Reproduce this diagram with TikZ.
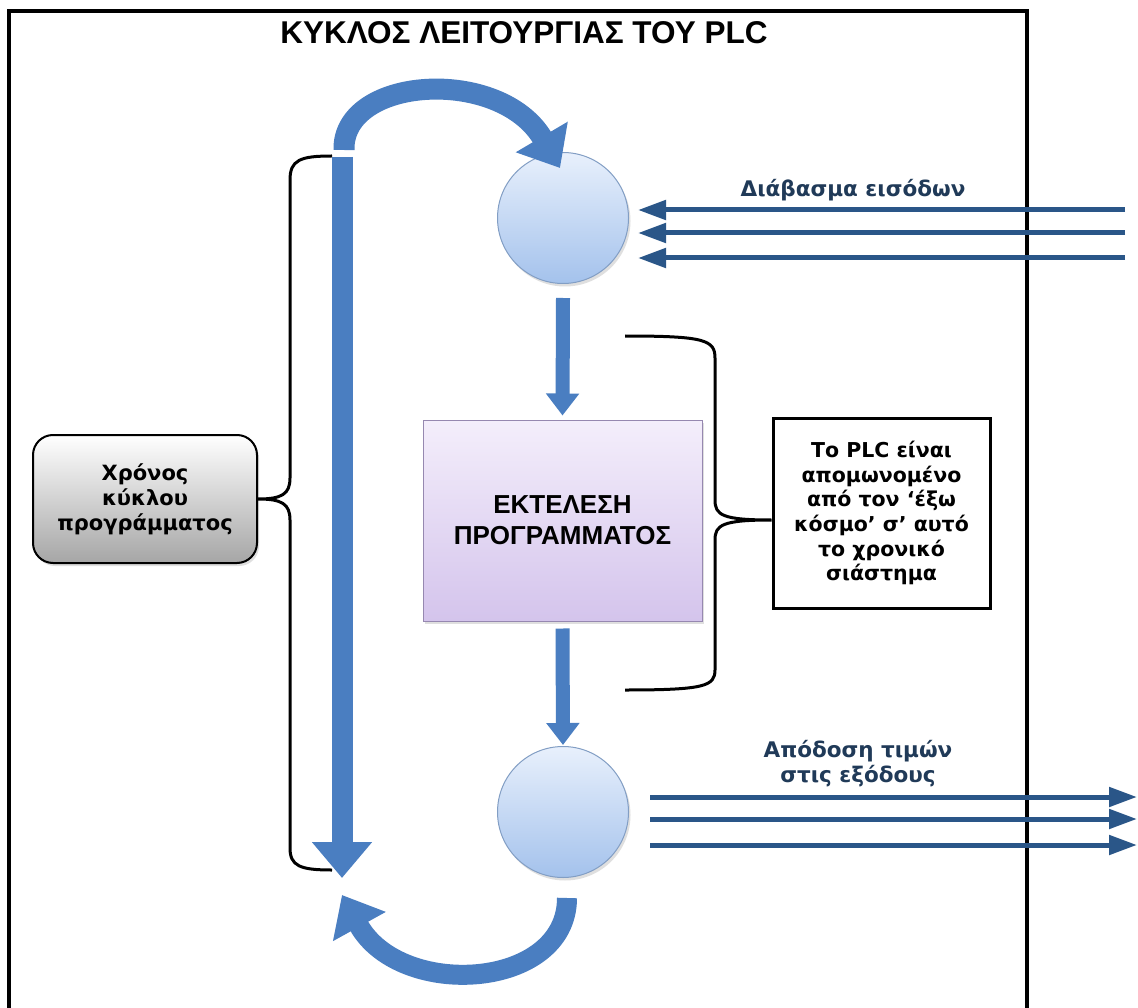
\documentclass[tikz,border=0pt]{standalone}
\usepackage{fontspec}
\setmainfont{DejaVu Sans}
\newfontfamily\lsans{Liberation Sans}
\usetikzlibrary{arrows.meta,shadows}
\definecolor{thickblue}{RGB}{74,126,193}
\definecolor{lineblue}{RGB}{42,86,136}
\definecolor{labelblue}{RGB}{32,58,88}
\definecolor{circtop}{RGB}{232,240,252}
\definecolor{circbot}{RGB}{164,194,236}
\definecolor{circedge}{RGB}{130,158,196}
\definecolor{boxtop}{RGB}{244,238,251}
\definecolor{boxbot}{RGB}{212,196,236}
\definecolor{boxedge}{RGB}{150,136,176}
\begin{document}
\begin{tikzpicture}[x=1pt,y=-1pt,
  bigarrow/.style={draw=thickblue, line width=21pt, -{Triangle[width=58pt,length=36pt]}},
  midarrow/.style={draw=thickblue, line width=14pt, -{Triangle[width=32pt,length=22pt]}},
  inarrow/.style={draw=lineblue, line width=5pt, -{Triangle[width=19pt,length=28pt]}},
  brace/.style={draw=black, line width=3pt},
  frame/.style={draw=black, line width=4pt},
  circ/.style={circle, minimum size=131pt, inner sep=0pt, draw=circedge, line width=1pt,
    top color=circtop, bottom color=circbot,
    drop shadow={opacity=0.25, shadow xshift=2pt, shadow yshift=-3pt}},
  execbox/.style={rectangle, minimum width=279pt, minimum height=201pt, draw=boxedge, line width=1pt,
    top color=boxtop, bottom color=boxbot, align=center,
    font=\lsans\bfseries\fontsize{26}{31}\selectfont,
    drop shadow={opacity=0.25, shadow xshift=2pt, shadow yshift=-3pt}},
  timebox/.style={rectangle, rounded corners=20pt, minimum width=224pt, minimum height=128pt,
    draw=black, line width=2pt, top color=white, bottom color=black!35, align=center,
    font=\bfseries\fontsize{21}{25}\selectfont,
    drop shadow={opacity=0.25, shadow xshift=2pt, shadow yshift=-3pt}},
  notebox/.style={rectangle, minimum width=217pt, minimum height=190pt, draw=black, line width=3pt,
    fill=white, align=center, font=\bfseries\fontsize{20.5}{24.7}\selectfont},
  lbl/.style={text=labelblue, align=center, font=\bfseries\fontsize{21.5}{25}\selectfont}
]
\useasboundingbox (0,0) rectangle (1138,1008);
\fill[white] (0,0) rectangle (1138,1008);

% frame
\draw[frame] (9,1010) -- (9,11) -- (1027,11) -- (1027,1010);

% title
\node[font=\lsans\bfseries\fontsize{31.5}{36}\selectfont] (title) at (524,33) {ΚΥΚΛΟΣ ΛΕΙΤΟΥΡΓΙΑΣ ΤΟΥ PLC};

% nodes
\node[circ] (c1) at (563,218) {};
\node[circ] (c2) at (563,812) {};
\node[execbox] (exec) at (562.5,520.5) {ΕΚΤΕΛΕΣΗ\\ΠΡΟΓΡΑΜΜΑΤΟΣ};
\node[timebox] (time) at (145,499) {Χρόνος\\κύκλου\\προγράμματος};
\node[notebox] (note) at (881.5,513) {Το PLC είναι\\απομωνομένο\\από τον ‘έξω\\κόσμο’ σ’ αυτό\\το χρονικό\\σιάστημα};

% left brace
\coordinate (lbtip) at (time.east);
\draw[brace] (332,156) .. controls (300,156) and (290,160) .. (290,180) -- (290,478)
  .. controls (290,494) and (282,499) .. (lbtip)
  .. controls (282,499) and (290,504) .. (290,520) -- (290,848)
  .. controls (290,866) and (300,870) .. (332,870);

% right brace
\coordinate (rbtip) at (note.west |- 0,520);
\draw[brace] (625,336) .. controls (705,336) and (715,340) .. (715,358) -- (715,500)
  .. controls (715,515) and (722,520) .. (rbtip)
  .. controls (722,520) and (715,525) .. (715,540) -- (715,670)
  .. controls (715,686) and (705,690) .. (625,690);

% cycle arrows
\coordinate (bartop) at (342,157);
\coordinate (bartip) at (342,878);
\draw[bigarrow] (bartop) -- (bartip);
\coordinate (arcA) at (344,150);
\coordinate (arcAtip) at (560,168);
\draw[bigarrow] (arcA) .. controls (342,76) and (500,66) .. (arcAtip);
\coordinate (arcB) at (567,898);
\coordinate (arcBtip) at (342,895);
\draw[bigarrow, line width=20pt] (arcB) .. controls (567,990) and (400,1000) .. (arcBtip);

% flow arrows
\draw[midarrow] ([yshift=-14pt]c1.south) -- ([yshift=4pt]exec.north);
\draw[midarrow] ([yshift=-7pt]exec.south) -- ([yshift=1pt]c2.north);

% inputs
\foreach \y/\n in {210/1,233/2,258/3}{
  \coordinate (in\n) at (1125,\y);
  \coordinate (intip\n) at (638,\y);
  \draw[inarrow] (in\n) -- (intip\n);
}
\node[lbl] (inlbl) at (853,190) {Διάβασμα εισόδων};

% outputs
\foreach \y/\n in {797/1,819/2,845/3}{
  \coordinate (out\n) at (650,\y);
  \coordinate (outtip\n) at (1137,\y);
  \draw[inarrow] (out\n) -- (outtip\n);
}
\node[lbl] (outlbl) at (858,764) {Απόδοση τιμών\\στις εξόδους};
\end{tikzpicture}
\end{document}
